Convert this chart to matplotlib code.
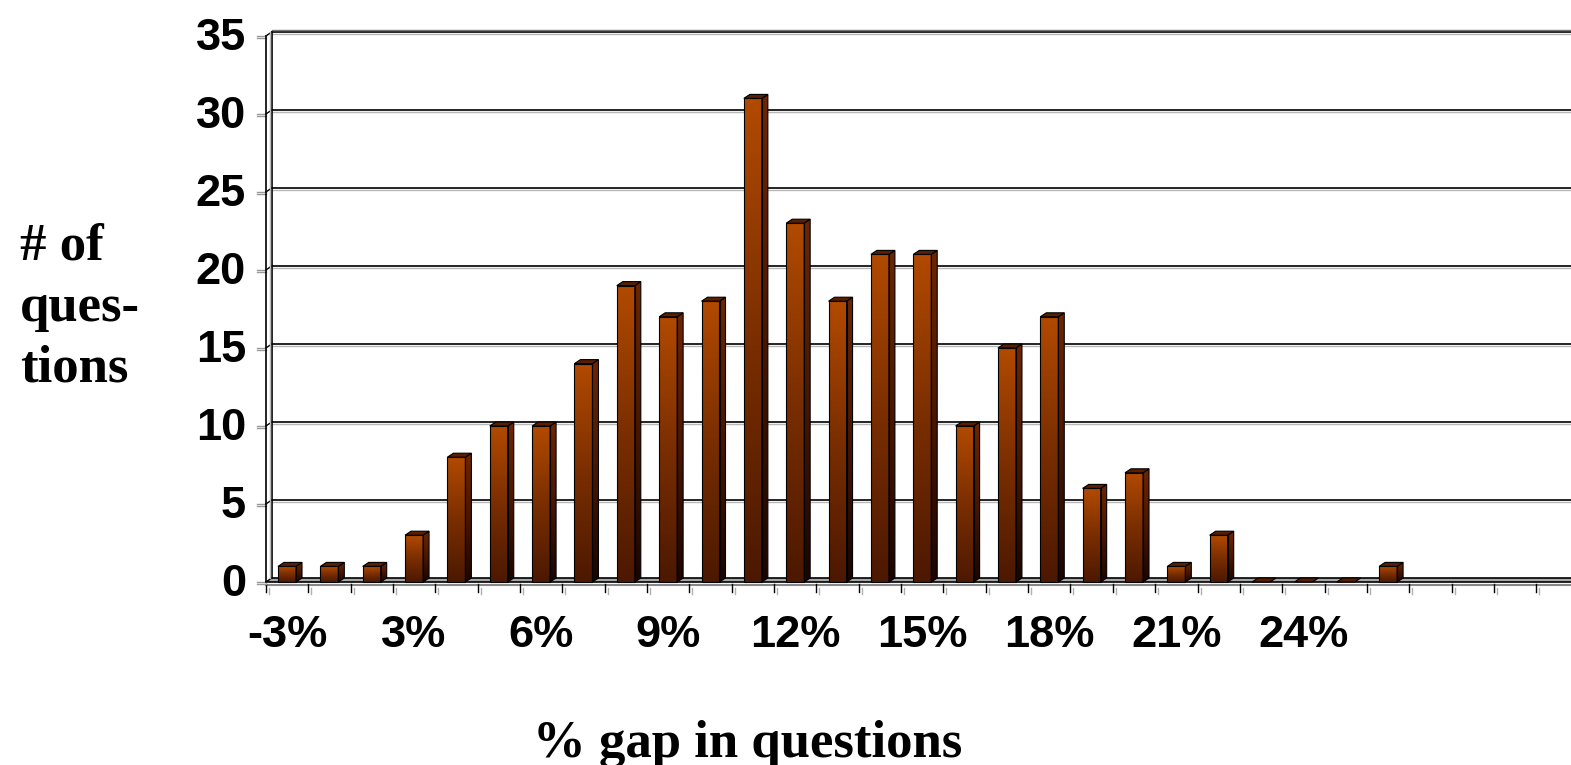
import numpy as np
import matplotlib
matplotlib.use("Agg")
import matplotlib.pyplot as plt
from matplotlib.colors import LinearSegmentedColormap
from matplotlib.patches import Polygon, Rectangle

# number of questions per gap bucket (last three slots are empty)
counts = [1, 1, 1, 3, 8, 10, 10, 14, 19, 17, 18, 31, 23, 18, 21, 21,
          10, 15, 17, 6, 7, 1, 3, 0, 0, 0, 1]
n_slots = 30
tick_pos = [0, 3, 6, 9, 12, 15, 18, 21, 24]
tick_labels = ["-3%", "3%", "6%", "9%", "12%", "15%", "18%", "21%", "24%"]
yticks = [0, 5, 10, 15, 20, 25, 30, 35]

W, H = 1571, 765
fig = plt.figure(figsize=(W / 100, H / 100), dpi=100)
ax = fig.add_axes([0, 0, 1, 1])

# layout: one category = sx pixels, one count = sy pixels
x0px, sx = 287.0, 42.35
y0px, sy = 578.0, 15.6

def px(x):
    return (x - x0px) / sx

def py(y):
    return (y0px - y) / sy

ddx = 6 / sx      # depth of the 3d effect
ddy = 4 / sy
bw = 18 / sx
xmax = px(W + 5)
ymax = yticks[-1]
wall_front = -0.5
wall_back = -0.5 + ddx

front_cm = LinearSegmentedColormap.from_list("front", ["#4c1800", "#7a2e00", "#b24a00"])
side_cm = LinearSegmentedColormap.from_list("side", ["#1a0500", "#4a1600", "#6e2600"])
grad = np.linspace(0, 1, 256).reshape(-1, 1)

# floor
floor = Polygon([(wall_front, -ddy), (xmax, -ddy), (xmax, 0), (wall_back, 0)],
                closed=True, facecolor="#a8a8a8", edgecolor="none", zorder=1)
ax.add_patch(floor)
ax.plot([wall_back, xmax], [0, 0], color="black", lw=1.2, zorder=2)
ax.plot([wall_front, xmax], [-ddy, -ddy], color="black", lw=1.2, zorder=2)
ax.plot([wall_front, xmax], [-ddy - 2.5 / sy] * 2, color="#888888", lw=1.5, zorder=2)

# category ticks below the floor
for k in range(n_slots + 1):
    xt = k - 0.5
    ax.plot([xt, xt], [-ddy - 2 / sy, -ddy - 10 / sy], color="black", lw=1, zorder=2)
    ax.plot([xt + 3 / sx, xt + 3 / sx], [-ddy - 6 / sy, -ddy - 12 / sy], color="#b0b0b0", lw=1, zorder=2)

# back wall gridlines and the thin left wall
for v in yticks[1:]:
    ax.plot([wall_back, xmax], [v, v], color="black", lw=1.2, zorder=2)
    ax.plot([wall_back, xmax], [v - 1.5 / sy] * 2, color="#b8b8b8", lw=1, zorder=2)
for v in yticks:
    ax.plot([wall_front, wall_back], [v - ddy, v], color="black", lw=1, zorder=2)
    ax.plot([px(257), wall_front], [v - ddy, v - ddy], color="#9a9a9a", lw=1, zorder=2)
    ax.plot([px(257), wall_front], [v - ddy - 2 / sy] * 2, color="#9a9a9a", lw=1, zorder=2)
ax.plot([wall_front, wall_front], [-ddy, ymax - ddy], color="black", lw=1.2, zorder=2)
ax.plot([wall_back, wall_back], [0, ymax], color="black", lw=1.2, zorder=2)
ax.plot([wall_back - 1.5 / sx] * 2, [0, ymax], color="#b8b8b8", lw=1, zorder=2)
ax.plot([wall_back, xmax], [ymax + 2 / sy] * 2, color="#777777", lw=1, zorder=2)

# bars
for i, v in enumerate(counts):
    xl, xr = i - bw / 2, i + bw / 2
    bottom, top = -ddy, v - ddy
    if v > 0:
        ax.imshow(grad, cmap=front_cm, origin="lower", aspect="auto",
                  extent=[xl, xr, bottom, top], zorder=3, interpolation="bilinear")
        ax.add_patch(Rectangle((xl, bottom), xr - xl, top - bottom, fill=False,
                               edgecolor="black", lw=0.8, zorder=4))
        side = Polygon([(xr, bottom), (xr + ddx, 0), (xr + ddx, v), (xr, top)],
                       closed=True, facecolor="none", edgecolor="black", lw=0.8, zorder=4)
        ax.add_patch(side)
        im = ax.imshow(grad, cmap=side_cm, origin="lower", aspect="auto",
                       extent=[xr, xr + ddx, bottom, v], zorder=3, interpolation="bilinear")
        im.set_clip_path(side)
    top_face = Polygon([(xl, top), (xr, top), (xr + ddx, v), (xl + ddx, v)],
                       closed=True, facecolor="#5a1e00", edgecolor="black", lw=0.8, zorder=4)
    ax.add_patch(top_face)

# tick labels
tick_font = dict(family="Liberation Sans", fontweight="bold", fontsize=32.5)
for v in yticks:
    ax.text(px(246), v - 18 / sy, str(v), ha="right", va="baseline", **tick_font)
for pos, lab in zip(tick_pos, tick_labels):
    ax.text(pos, py(647), lab, ha="center", va="baseline", **tick_font)

# axis titles
title_font = dict(family="Liberation Serif", fontweight="bold", fontsize=38)
fig.text(748 / W, (H - 757) / H, "% gap in questions", ha="center", va="baseline", **title_font)
for line, base in zip(["# of", "ques-", "tions"], [260, 321, 382]):
    fig.text(20 / W, (H - base) / H, line, ha="left", va="baseline", **title_font)

ax.set_xlim(px(0), px(W))
ax.set_ylim(py(H), py(0))
ax.axis("off")

plt.savefig("out.png", dpi=100)
